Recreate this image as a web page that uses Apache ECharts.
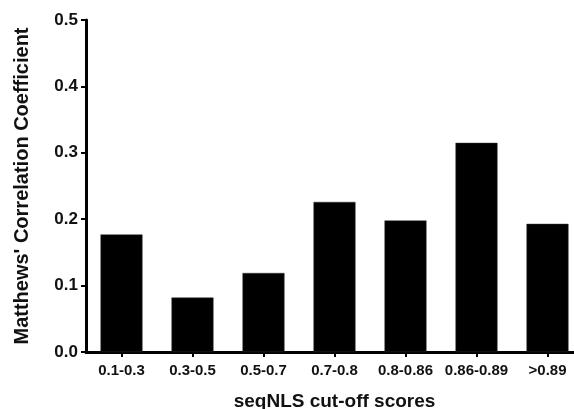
<!DOCTYPE html>
<html>
<head>
<meta charset="utf-8">
<script src="https://cdn.jsdelivr.net/npm/echarts@6/dist/echarts.min.js"></script>
<style>html,body{margin:0;padding:0;background:#fff;}#c{width:574px;height:409px;}</style>
</head>
<body>
<div id="c"></div>
<script>
var categories = ['0.1-0.3', '0.3-0.5', '0.5-0.7', '0.7-0.8', '0.8-0.86', '0.86-0.89', '>0.89'];
var mccValues = [0.177, 0.082, 0.119, 0.226, 0.198, 0.315, 0.193];
var yTicks = [0.0, 0.1, 0.2, 0.3, 0.4, 0.5];

var font = '"Liberation Sans", Arial, Helvetica, sans-serif';
var chart = echarts.init(document.getElementById('c'), null, {renderer: 'canvas'});
chart.setOption({
  animation: false,
  backgroundColor: '#fff',
  grid: {left: 86, top: 20, width: 497, height: 332, containLabel: false, outerBoundsMode: 'none'},
  xAxis: {
    type: 'category',
    data: categories,
    name: 'seqNLS cut-off scores',
    nameLocation: 'middle',
    nameGap: 40,
    nameTextStyle: {fontFamily: font, fontWeight: 'bold', fontSize: 19, color: '#111'},
    axisLine: {lineStyle: {color: '#000', width: 3}},
    axisTick: {show: true, alignWithLabel: true, length: 5, lineStyle: {color: '#000', width: 2}},
    axisLabel: {fontFamily: font, fontWeight: 'bold', fontSize: 15, color: '#111', margin: 11, interval: 0},
    splitLine: {show: false}
  },
  yAxis: {
    type: 'value',
    min: yTicks[0],
    max: yTicks[yTicks.length - 1],
    interval: 0.1,
    name: "Matthews' Correlation Coefficient",
    nameLocation: 'middle',
    nameGap: 54,
    nameRotate: 90,
    nameTextStyle: {fontFamily: font, fontWeight: 'bold', fontSize: 20, color: '#111'},
    axisLine: {show: true, lineStyle: {color: '#000', width: 3}},
    axisTick: {show: true, length: 5, lineStyle: {color: '#000', width: 2}},
    axisLabel: {fontFamily: font, fontWeight: 'bold', fontSize: 17, color: '#111', margin: 8,
      formatter: function (v) { return v.toFixed(1); }},
    splitLine: {show: false}
  },
  series: [{
    type: 'bar',
    data: mccValues,
    barWidth: 42,
    itemStyle: {color: '#000', borderColor: '#333', borderWidth: 0.5}
  }]
});
</script>
</body>
</html>
